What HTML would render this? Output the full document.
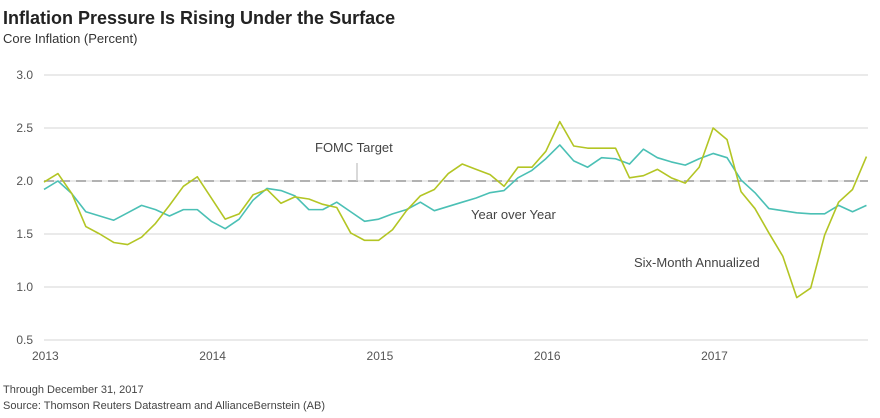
<!DOCTYPE html>
<html><head><meta charset="utf-8"><style>
body{margin:0;background:#fff;width:880px;height:413px;overflow:hidden;font-family:"Liberation Sans",sans-serif}
svg text{font-family:"Liberation Sans",sans-serif}
</style></head><body>
<svg id="chart" width="880" height="413" xmlns="http://www.w3.org/2000/svg">
<text x="3" y="24" font-size="18" font-weight="bold" fill="#222">Inflation Pressure Is Rising Under the Surface</text>
<text x="3" y="43" font-size="13" fill="#333">Core Inflation (Percent)</text>
<g id="grid"></g><g id="series"></g>
<text x="3" y="393" font-size="11" fill="#444">Through December 31, 2017</text>
<text x="3" y="409" font-size="11" fill="#444">Source: Thomson Reuters Datastream and AllianceBernstein (AB)</text>
</svg>
<script>
const yTicks=[0.5,1.0,1.5,2.0,2.5,3.0];
const yearLabels=["2013","2014","2015","2016","2017"];
const yoy=[1.92,2.00,1.88,1.71,1.67,1.63,1.70,1.77,1.73,1.67,1.73,1.73,
1.62,1.55,1.64,1.82,1.93,1.91,1.86,1.73,1.73,1.80,1.71,1.62,
1.64,1.69,1.73,1.80,1.72,1.76,1.80,1.84,1.89,1.91,2.03,2.10,
2.21,2.34,2.19,2.13,2.22,2.21,2.16,2.30,2.22,2.18,2.15,2.21,
2.26,2.22,2.01,1.89,1.74,1.72,1.70,1.69,1.69,1.77,1.71,1.77];
const sixMonth=[1.99,2.07,1.88,1.57,1.50,1.42,1.40,1.47,1.60,1.77,1.95,2.04,
1.84,1.64,1.69,1.87,1.92,1.79,1.85,1.83,1.78,1.75,1.51,1.44,
1.44,1.54,1.72,1.86,1.92,2.07,2.16,2.11,2.06,1.95,2.13,2.13,
2.28,2.56,2.33,2.31,2.31,2.31,2.03,2.05,2.11,2.03,1.98,2.13,
2.50,2.39,1.90,1.74,1.51,1.29,0.90,0.99,1.49,1.80,1.92,2.23];
const target=2.0;
const NS="http://www.w3.org/2000/svg";
const x0=44,x1=868,mw=13.94;
const xS=i=>x0+i*mw;
const yS=v=>181-(v-2)*106;
function mk(t,a,p){const e=document.createElementNS(NS,t);for(const k in a)e.setAttribute(k,a[k]);p.appendChild(e);return e;}
const g=document.getElementById('grid'),s=document.getElementById('series');
yTicks.forEach(v=>{
 const l=mk('line',{x1:x0,x2:x1,y1:yS(v),y2:yS(v),stroke:'#d6d6d6','stroke-width':1},g);
 
 
 const t=mk('text',{x:33,y:yS(v)+4,'font-size':12,fill:'#555','text-anchor':'end'},g);
 t.textContent=v.toFixed(1);
 
 
});
yearLabels.forEach((y,k)=>{
 const t=mk('text',{x:xS(k*12)-12,y:360,'font-size':12,fill:'#555'},g);
 t.textContent=y;
 
 
});
const tl=mk('line',{x1:x0,x2:x1,y1:yS(target),y2:yS(target),stroke:'#999','stroke-width':1.6,'stroke-dasharray':'10 6'},g);


const tk=mk('line',{x1:357,x2:357,y1:163,y2:yS(target),stroke:'#ccc','stroke-width':1.5},g);


function path(arr,color,name){
 const p=mk('polyline',{points:arr.map((v,i)=>xS(i)+','+yS(v)).join(' '),fill:'none',stroke:color,'stroke-width':1.6,'stroke-linejoin':'round'},s);
 
 
}
path(yoy,'#4bc0b5','year-over-year-line');
path(sixMonth,'#b3c524','six-month-annualized-line');
[['FOMC Target',315,152,'fomc-target-label'],['Year over Year',471,219,'year-over-year-label'],['Six-Month Annualized',634,267,'six-month-annualized-label']].forEach(a=>{
 const t=mk('text',{x:a[1],y:a[2],'font-size':13,fill:'#444'},s);
 t.textContent=a[0];
 
 
});
</script>
</body></html>
